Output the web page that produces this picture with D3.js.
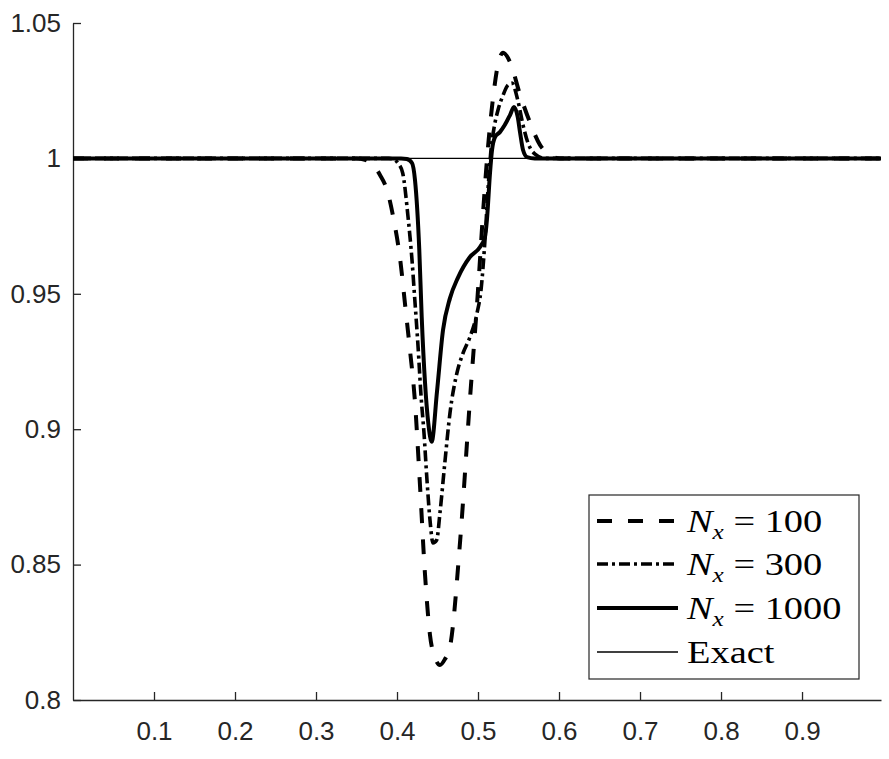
<!DOCTYPE html>
<html>
<head>
<meta charset="utf-8">
<script src="https://cdn.jsdelivr.net/npm/d3@7"></script>
<style>
  html, body { margin: 0; padding: 0; background: #fff; }
  svg { display: block; }
</style>
</head>
<body>
<svg id="chart" width="889" height="759"></svg>
<script>
// ---- data ----
const xTicks = [0.1, 0.2, 0.3, 0.4, 0.5, 0.6, 0.7, 0.8, 0.9];
const yTicks = [0.8, 0.85, 0.9, 0.95, 1, 1.05];
const seriesNames = ["N_x = 100", "N_x = 300", "N_x = 1000", "Exact"];

const x100 = [0, 0.35, 0.3605, 0.369, 0.379, 0.3877, 0.396, 0.404, 0.41, 0.416, 0.422, 0.428, 0.4346, 0.4407, 0.447, 0.453, 0.459, 0.4654, 0.478, 0.49, 0.5, 0.506, 0.512, 0.519, 0.525, 0.531, 0.5395, 0.552, 0.564, 0.5765, 0.589, 0.601, 0.9975];
const y100 = [1, 1, 0.9995, 0.998, 0.9939, 0.9883, 0.9773, 0.9625, 0.9459, 0.9292, 0.9108, 0.8812, 0.8462, 0.824, 0.8155, 0.8129, 0.815, 0.8196, 0.859, 0.9108, 0.9514, 0.979, 1.003, 1.0234, 1.0352, 1.039, 1.0356, 1.0234, 1.0134, 1.005, 1.0013, 1.0, 1];

const x300 = [0, 0.39, 0.395, 0.401, 0.407, 0.4136, 0.4185, 0.422, 0.426, 0.4296, 0.4333, 0.437, 0.4407, 0.4444, 0.449, 0.453, 0.459, 0.4654, 0.474, 0.4815, 0.49, 0.4988, 0.5037, 0.5086, 0.5123, 0.516, 0.52, 0.5247, 0.531, 0.537, 0.542, 0.549, 0.5556, 0.5617, 0.5704, 0.583, 0.595, 0.9975];
const y300 = [1, 1, 0.9998, 0.9983, 0.9946, 0.9784, 0.9625, 0.9477, 0.9304, 0.9126, 0.8986, 0.8812, 0.8665, 0.858, 0.8591, 0.869, 0.8875, 0.906, 0.9208, 0.9281, 0.934, 0.9429, 0.9514, 0.9699, 0.9883, 1.0031, 1.0116, 1.0179, 1.0234, 1.0271, 1.0278, 1.0216, 1.0123, 1.0057, 1.0016, 1.0, 1, 1];

const x1000 = [0, 0.405, 0.412, 0.4185, 0.4222, 0.4275, 0.4305, 0.4346, 0.4386, 0.4428, 0.4494, 0.4568, 0.4654, 0.475, 0.49, 0.5025, 0.5086, 0.511, 0.5148, 0.5173, 0.521, 0.527, 0.533, 0.5395, 0.5444, 0.549, 0.552, 0.5556, 0.5605, 0.57, 0.9975];
const y1000 = [1, 1, 0.9998, 0.9983, 0.992, 0.9662, 0.9414, 0.9171, 0.9023, 0.8954, 0.914, 0.9366, 0.9484, 0.9558, 0.9636, 0.9673, 0.971, 0.9773, 0.9946, 1.0031, 1.0079, 1.0097, 1.0123, 1.016, 1.019, 1.0153, 1.0094, 1.0031, 1.0005, 1, 1];

const xExact = [0, 0.9975];
const yExact = [1, 1];

// ---- layout ----
const svg = d3.select("#chart");
const mLeft = 73, mRight = 881, mTop = 23, mBottom = 700;
const axisColor = "#262626";
const tickFont = "'Liberation Sans', Arial, Helvetica, sans-serif";
const legendFont = "'Liberation Serif', 'Times New Roman', serif";

const x = d3.scaleLinear().domain([0, 0.9975]).range([mLeft, mRight]);
const y = d3.scaleLinear().domain([0.8, 1.05]).range([mBottom, mTop]);

svg.append("rect").attr("width", 889).attr("height", 759).attr("fill", "#fff");

// axes
const xAxis = d3.axisBottom(x).tickValues(xTicks).tickSizeInner(-8).tickSizeOuter(0).tickPadding(22)
  .tickFormat(d3.format(".1f"));
const gx = svg.append("g").attr("transform", `translate(0,${mBottom})`).call(xAxis);
const yAxis = d3.axisLeft(y).tickValues(yTicks).tickSizeInner(-8).tickSizeOuter(0).tickPadding(12)
  .tickFormat(d => String(+d.toFixed(2)));
const gy = svg.append("g").attr("transform", `translate(${mLeft},0)`).call(yAxis);

[gx, gy].forEach(g => {
  g.select(".domain").attr("stroke", axisColor).attr("stroke-width", 1.3);
  g.selectAll(".tick line").attr("stroke", axisColor).attr("stroke-width", 1.3);
  g.selectAll(".tick text").attr("fill", axisColor).attr("font-family", tickFont).attr("font-size", 26);
});
gx.selectAll(".tick text").attr("dy", "0.71em");

// lines
const line = d3.line().x(d => x(d[0])).y(d => y(d[1])).curve(d3.curveMonotoneX);
const zip = (a, b) => a.map((v, i) => [v, b[i]]);

const styles = [
  { data: zip(x100, y100), width: 4, dash: "15,16" },
  { data: zip(x300, y300), width: 3.6, dash: "11,4,3,4" },
  { data: zip(x1000, y1000), width: 4, dash: null },
  { data: zip(xExact, yExact), width: 1.3, dash: null }
];

const plot = svg.append("g");
styles.forEach(s => {
  plot.append("path")
    .attr("d", line(s.data))
    .attr("fill", "none")
    .attr("stroke", "#000")
    .attr("stroke-width", s.width)
    .attr("stroke-dasharray", s.dash)
    .attr("stroke-linejoin", "round");
});

// legend
const lg = svg.append("g");
lg.append("rect").attr("x", 589).attr("y", 495).attr("width", 270).attr("height", 184)
  .attr("fill", "#fff").attr("stroke", axisColor).attr("stroke-width", 1.2);
const rowY = [521, 564, 608, 652];
seriesNames.forEach((name, i) => {
  const s = styles[i];
  lg.append("line").attr("x1", 597).attr("x2", 678).attr("y1", rowY[i]).attr("y2", rowY[i])
    .attr("stroke", "#000").attr("stroke-width", s.width).attr("stroke-dasharray", s.dash);
  const t = lg.append("text")
    .attr("transform", `translate(687,${rowY[i] + 11}) scale(1.2,1)`)
    .attr("font-family", legendFont).attr("font-size", 32).attr("fill", "#000");
  if (name.startsWith("N_x")) {
    t.append("tspan").attr("font-style", "italic").text("N");
    t.append("tspan").attr("font-style", "italic").attr("font-size", 21).attr("dy", 7).text("x");
    t.append("tspan").attr("dy", -7).text("\u00a0=\u00a0" + name.split("= ")[1]);
  } else {
    t.text(name);
  }
});
</script>
</body>
</html>
